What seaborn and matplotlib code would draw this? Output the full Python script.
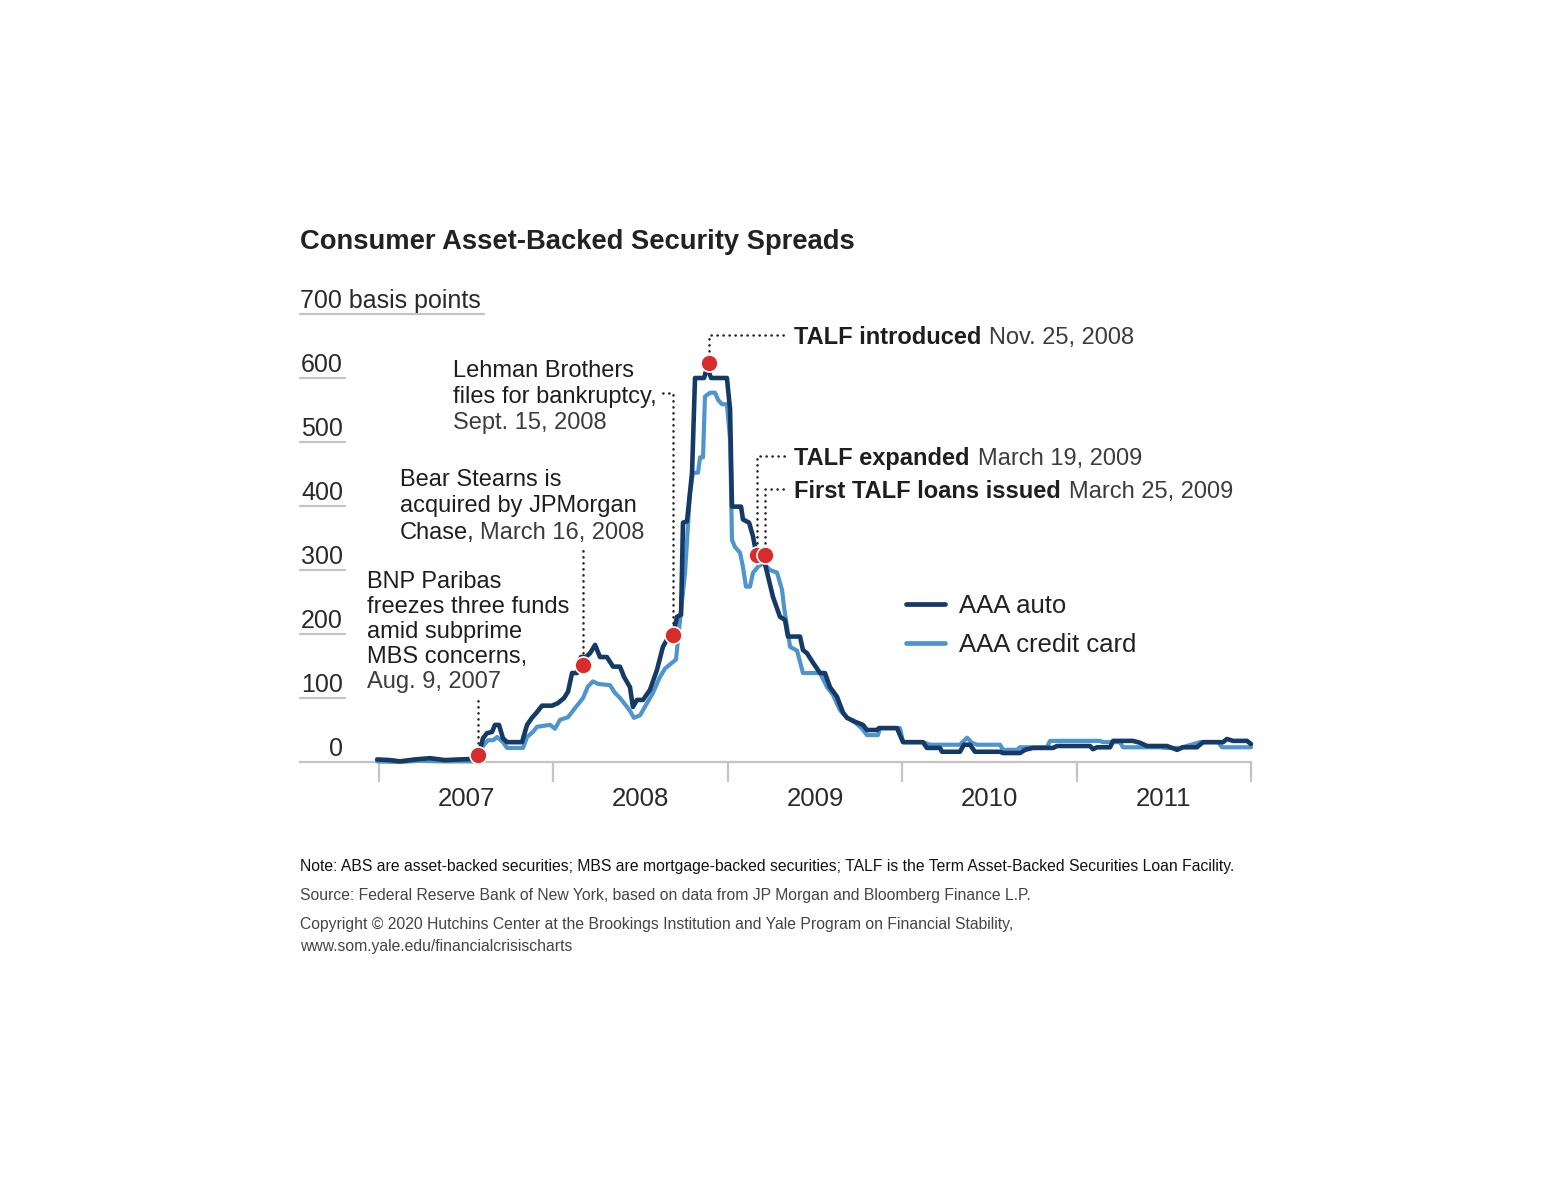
import matplotlib
matplotlib.use("Agg")
import matplotlib.pyplot as plt
import matplotlib.transforms as mtransforms
import seaborn as sns
import pandas as pd

# ---------------- data (fractional years, basis points) ----------------
auto_t = [2006.989, 2007.063, 2007.120, 2007.206, 2007.292, 2007.378, 2007.464, 2007.556,
          2007.585, 2007.596, 2007.619, 2007.648, 2007.665, 2007.688, 2007.711, 2007.734,
          2007.820, 2007.849, 2007.877, 2007.906, 2007.935, 2007.992, 2008.026, 2008.061,
          2008.084, 2008.107, 2008.135, 2008.158, 2008.187, 2008.210, 2008.239, 2008.267,
          2008.307, 2008.342, 2008.382, 2008.405, 2008.439, 2008.456, 2008.479, 2008.514,
          2008.554, 2008.594, 2008.628, 2008.657, 2008.686, 2008.709, 2008.732, 2008.743,
          2008.766, 2008.795, 2008.812, 2008.864, 2008.881, 2008.904, 2008.995, 2009.013,
          2009.024, 2009.076, 2009.087, 2009.122, 2009.145, 2009.156, 2009.179, 2009.213,
          2009.259, 2009.299, 2009.328, 2009.345, 2009.414, 2009.431, 2009.454, 2009.489,
          2009.529, 2009.557, 2009.586, 2009.626, 2009.661, 2009.684, 2009.729, 2009.775,
          2009.798, 2009.856, 2009.867, 2009.970, 2010.005, 2010.119, 2010.142, 2010.217,
          2010.228, 2010.331, 2010.354, 2010.389, 2010.417, 2010.561, 2010.578, 2010.675,
          2010.704, 2010.750, 2010.865, 2010.888, 2011.077, 2011.094, 2011.117, 2011.192,
          2011.209, 2011.323, 2011.364, 2011.404, 2011.518, 2011.576, 2011.610, 2011.690,
          2011.725, 2011.840, 2011.862, 2011.897, 2011.977, 2012.000]
auto_v = [4, 3, 1, 4, 6, 3, 4, 5,
          25, 37, 45, 47, 58, 58, 37, 31,
          31, 58, 69, 78, 88, 88, 92, 100,
          110, 139, 139, 164, 164, 170, 183, 164,
          164, 149, 149, 133, 117, 86, 97, 97,
          113, 144, 180, 194, 199, 227, 230, 374,
          376, 452, 600, 600, 617, 600, 600, 551,
          399, 399, 379, 374, 352, 336, 320, 310,
          258, 227, 222, 196, 196, 175, 170, 155,
          139, 139, 117, 102, 77, 69, 63, 58,
          50, 50, 53, 53, 31, 31, 22, 22,
          16, 16, 27, 27, 16, 16, 14, 14,
          19, 22, 22, 25, 25, 20, 23, 23,
          33, 33, 30, 25, 25, 19, 23, 23,
          31, 31, 36, 33, 33, 28]

card_t = [2006.989, 2007.120, 2007.235, 2007.350, 2007.464, 2007.550, 2007.573, 2007.596,
          2007.625, 2007.654, 2007.677, 2007.711, 2007.734, 2007.826, 2007.849, 2007.883,
          2007.906, 2007.981, 2008.009, 2008.038, 2008.084, 2008.112, 2008.141, 2008.170,
          2008.198, 2008.227, 2008.256, 2008.325, 2008.353, 2008.382, 2008.411, 2008.439,
          2008.462, 2008.497, 2008.537, 2008.571, 2008.611, 2008.640, 2008.680, 2008.703,
          2008.726, 2008.755, 2008.783, 2008.800, 2008.829, 2008.841, 2008.858, 2008.869,
          2008.898, 2008.927, 2008.944, 2008.967, 2008.995, 2009.013, 2009.024, 2009.041,
          2009.070, 2009.087, 2009.104, 2009.127, 2009.145, 2009.173, 2009.202, 2009.242,
          2009.282, 2009.311, 2009.322, 2009.357, 2009.397, 2009.431, 2009.529, 2009.569,
          2009.603, 2009.643, 2009.684, 2009.729, 2009.770, 2009.798, 2009.861, 2009.873,
          2009.987, 2010.005, 2010.119, 2010.159, 2010.331, 2010.372, 2010.400, 2010.429,
          2010.561, 2010.578, 2010.658, 2010.675, 2010.830, 2010.848, 2011.134, 2011.151,
          2011.249, 2011.266, 2011.478, 2011.507, 2011.593, 2011.708, 2011.811, 2011.834,
          2012.000]
card_v = [1, 0, 2, 1, 1, 1, 3, 25,
          34, 34, 39, 31, 22, 22, 39, 47,
          55, 58, 52, 66, 70, 80, 90, 100,
          118, 126, 122, 120, 108, 100, 90, 80,
          69, 73, 92, 108, 133, 146, 155, 160,
          222, 296, 420, 452, 452, 476, 476, 571,
          577, 577, 566, 559, 559, 504, 347, 336,
          327, 305, 274, 274, 296, 305, 311, 300,
          296, 269, 243, 180, 174, 139, 139, 117,
          105, 81, 69, 62, 52, 42, 42, 53,
          53, 31, 31, 27, 27, 38, 30, 27,
          27, 19, 19, 23, 23, 33, 33, 31,
          31, 23, 23, 22, 22, 31, 31, 23,
          23]

event_t = [2007.568, 2008.170, 2008.686, 2008.892, 2009.168, 2009.213]
event_v = [11, 152, 199, 624, 324, 324]

year_labels = ["2007", "2008", "2009", "2010", "2011"]
y_levels = [0, 100, 200, 300, 400, 500, 600]
y_labels = ["0", "100", "200", "300", "400", "500", "600"]
series_names = ["AAA auto", "AAA credit card"]

TITLE = "Consumer Asset-Backed Security Spreads"
NOTE = ("Note: ABS are asset-backed securities; MBS are mortgage-backed securities; "
        "TALF is the Term Asset-Backed Securities Loan Facility.")
SOURCE = "Source: Federal Reserve Bank of New York, based on data from JP Morgan and Bloomberg Finance L.P."
COPY1 = "Copyright \u00a9 2020 Hutchins Center at the Brookings Institution and Yale Program on Financial Stability,"
COPY2 = "www.som.yale.edu/financialcrisischarts"

# ---------------- styling ----------------
DARK = "#163a66"
LIGHT = "#4f95cd"
RED = "#d92b2b"
GRID = "#c4c4c4"
TXT = "#1e1e1e"
TXT2 = "#3c3c3c"

sns.set_theme(style="white")
plt.rcParams["font.family"] = ["Liberation Sans", "DejaVu Sans"]

W, H = 1553, 1200
fig = plt.figure(figsize=(W / 100, H / 100), dpi=100)
fig.patch.set_facecolor("white")


def fx(px):
    return px / W


def fy(py):
    return 1 - py / H


ax = fig.add_axes([fx(300), fy(762), fx(1251) - fx(300), fy(314) - fy(762)])
ax.set_facecolor("white")
ax.set_xlim(2007 - 79 / 174.4, 2012)
ax.set_ylim(0, 700)

df_auto = pd.DataFrame({"t": auto_t, "v": auto_v})
df_card = pd.DataFrame({"t": card_t, "v": card_v})
sns.lineplot(data=df_card, x="t", y="v", ax=ax, color=LIGHT, lw=3.0,
             label=series_names[1], estimator=None, sort=False, clip_on=False, zorder=3)
sns.lineplot(data=df_auto, x="t", y="v", ax=ax, color=DARK, lw=3.3,
             label=series_names[0], estimator=None, sort=False, clip_on=False, zorder=4)

# axis styling
for s in ["top", "right", "left"]:
    ax.spines[s].set_visible(False)
ax.spines["bottom"].set_color(GRID)
ax.spines["bottom"].set_linewidth(1.6)
ax.set_xlabel("")
ax.set_ylabel("")
ax.set_yticks([])
ax.set_xticks([2007, 2008, 2009, 2010, 2011, 2012])
ax.set_xticklabels([])
ax.set_xticks([2007.5, 2008.5, 2009.5, 2010.5, 2011.5], minor=True)
ax.set_xticklabels(year_labels, minor=True)
ax.tick_params(axis="x", which="major", direction="out", length=14.5, width=1.6,
               color=GRID, bottom=True)
ax.tick_params(axis="x", which="minor", length=0, pad=18, labelsize=18.5,
               labelcolor="#2a2a2a", bottom=True)

# y labels with short underlines
blend = mtransforms.blended_transform_factory(ax.transAxes, ax.transData)
ux = (345 - 300) / 951
for lv, lb in zip(y_levels, y_labels):
    ax.text(ux - 0.002, lv + 10, lb, transform=blend, ha="right", va="baseline",
            fontsize=18, color="#2a2a2a")
    if lv > 0:
        ax.axhline(lv, xmin=0, xmax=ux, color=GRID, lw=1.6, clip_on=False)
ax.text(0, 710, "700 basis points", transform=blend, ha="left", va="baseline",
        fontsize=18, color="#2a2a2a", clip_on=False)
ax.axhline(700, xmin=0, xmax=(484 - 300) / 951, color=GRID, lw=1.6, clip_on=False)

# events
sns.scatterplot(x=event_t, y=event_v, ax=ax, color=RED, s=150, edgecolor="white",
                linewidth=1.2, zorder=6, clip_on=False, legend=False)

inv = ax.transData.inverted()


def to_data(px, py):
    return inv.transform((px, H - py))


# leader lines: (event index, top pixel y, horizontal end pixel x or None)
leaders = [(0, 697, None), (1, 548, None), (2, 393, 659), (3, 335, 788),
           (4, 456, 788), (5, 489, 788)]
for i, top_py, hx in leaders:
    xt = event_t[i]
    ytop = to_data(0, top_py)[1]
    xs = [xt, xt]
    ys = [event_v[i], ytop]
    if hx is not None:
        xs.append(to_data(hx, 0)[0])
        ys.append(ytop)
    ax.plot(xs, ys, color="#222222", lw=1.8, linestyle=(0, (0.1, 2.3)),
            dash_capstyle="round", zorder=5, clip_on=False)

# legend
handles, labels = ax.get_legend_handles_labels()
order = [labels.index(series_names[0]), labels.index(series_names[1])]
if ax.get_legend() is not None:
    ax.get_legend().remove()
leg = fig.legend([handles[k] for k in order], [labels[k] for k in order],
                 loc="upper left", bbox_to_anchor=(fx(906), fy(594)), frameon=False,
                 fontsize=18.5, handlelength=1.5, handletextpad=0.55, labelspacing=0.58,
                 borderpad=0, borderaxespad=0)
for t in leg.get_texts():
    t.set_color("#222222")
for lh in leg.get_lines():
    lh.set_linewidth(3.4)

# annotation texts
FS = 17
renderer = fig.canvas.get_renderer()


def line(px, py, s, color=TXT, weight="normal"):
    return fig.text(fx(px), fy(py), s, fontsize=FS, color=color, weight=weight,
                    ha="left", va="baseline")


def pair(px, py, first, second, weight1="normal", gap=8):
    t1 = line(px, py, first, TXT, weight1)
    bb = t1.get_window_extent(renderer=renderer)
    line(bb.x1 + gap, py, second, TXT2)


for k, s in enumerate(["BNP Paribas", "freezes three funds", "amid subprime", "MBS concerns,"]):
    line(367, 588 + 25 * k, s)
line(367, 688, "Aug. 9, 2007", TXT2)

line(400, 486, "Bear Stearns is")
line(400, 512, "acquired by JPMorgan")
pair(400, 539, "Chase,", "March 16, 2008", gap=5)

line(453, 377, "Lehman Brothers")
line(453, 403, "files for bankruptcy,")
line(453, 429, "Sept. 15, 2008", TXT2)

pair(794, 344, "TALF introduced", "Nov. 25, 2008", "bold")
pair(794, 465, "TALF expanded", "March 19, 2009", "bold")
pair(794, 498, "First TALF loans issued", "March 25, 2009", "bold")

# title and footer
fig.text(fx(300), fy(249), TITLE, fontsize=19.7, weight="bold", color="#222222",
         ha="left", va="baseline")
fig.text(fx(300), fy(871), NOTE, fontsize=11.3, color="#111111", ha="left", va="baseline")
fig.text(fx(300), fy(900), SOURCE, fontsize=11.3, color="#444444", ha="left", va="baseline")
fig.text(fx(300), fy(929), COPY1, fontsize=11.3, color="#444444", ha="left", va="baseline")
fig.text(fx(300), fy(951), COPY2, fontsize=11.3, color="#444444", ha="left", va="baseline")

fig.savefig("out.png", dpi=100, facecolor="white")
